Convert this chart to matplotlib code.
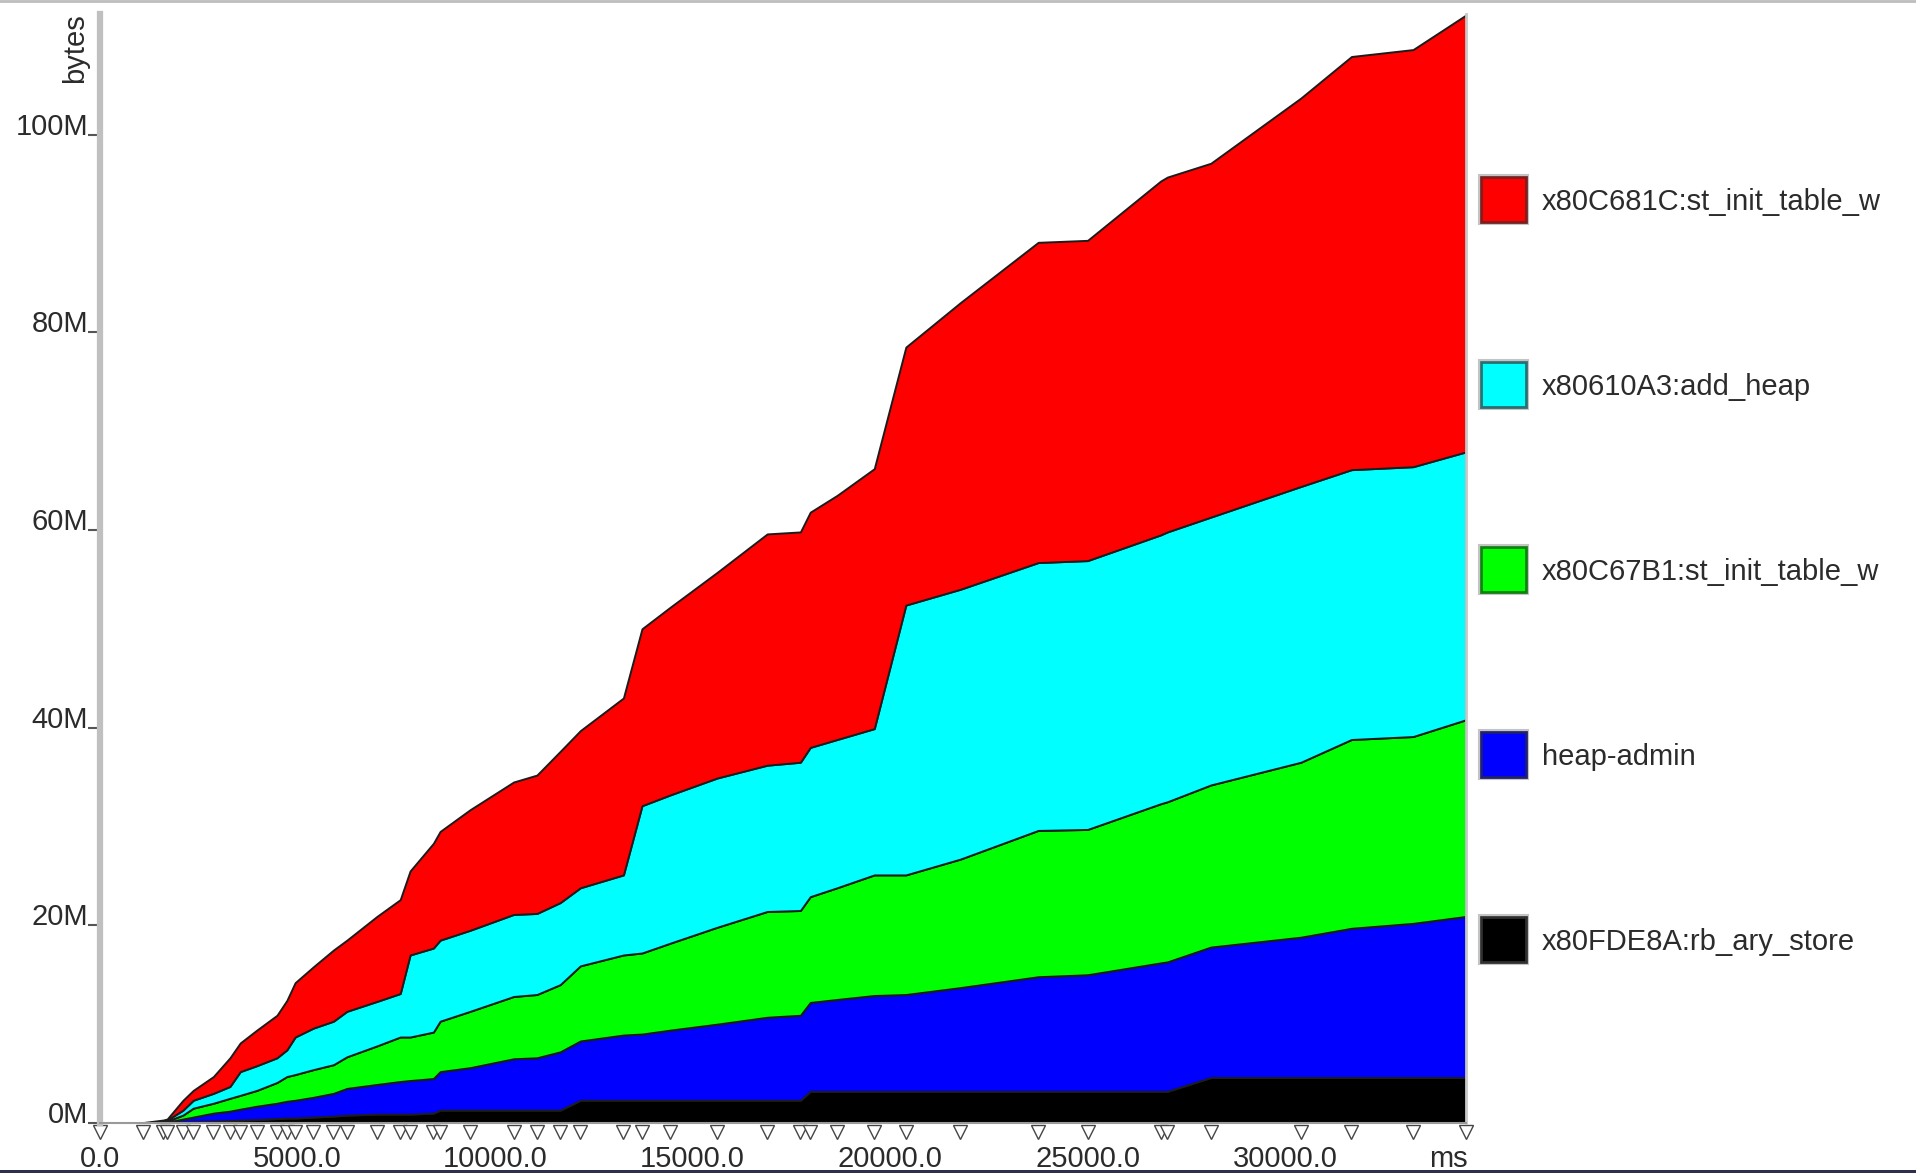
import matplotlib.pyplot as plt
from matplotlib.patches import Rectangle
from matplotlib.lines import Line2D

W, H = 1916, 1173
plt.rcParams['font.family'] = ['Liberation Sans', 'DejaVu Sans']

# sample times (ms)
times = [0, 1100, 1600, 1700, 2100, 2360, 2870, 3290, 3550, 3970,
         4480, 4730, 4940, 5400, 5910, 6250, 7010, 7600, 7850, 8440,
         8610, 9370, 10470, 11060, 11650, 12160, 13250, 13720, 14440, 15620,
         16890, 17730, 17980, 18660, 19600, 20400, 21780, 23750, 25000, 26850,
         27020, 28120, 30400, 31680, 33240, 34580]

# heap usage per allocation site, in MB
rb_ary_store = [0, 0, 0, 0.05, 0.1, 0.15, 0.2, 0.25, 0.3, 0.35,
                0.45, 0.5, 0.5, 0.6, 0.7, 0.8, 0.9, 0.9, 0.9, 1.0,
                1.3, 1.3, 1.3, 1.3, 1.3, 2.3, 2.3, 2.3, 2.3, 2.3,
                2.3, 2.3, 3.2, 3.2, 3.2, 3.2, 3.2, 3.2, 3.2, 3.2,
                3.2, 4.6, 4.6, 4.6, 4.6, 4.6]
heap_admin = [0, 0, 0.05, 0.05, 0.3, 0.45, 0.8, 0.95, 1.1, 1.35,
              1.55, 1.7, 1.8, 2.0, 2.3, 2.7, 3.0, 3.3, 3.4, 3.5,
              3.9, 4.3, 5.2, 5.3, 5.9, 6.0, 6.6, 6.7, 7.1, 7.7,
              8.4, 8.6, 9.0, 9.3, 9.7, 9.8, 10.5, 11.6, 11.8, 13.0,
              13.1, 13.2, 14.2, 15.1, 15.6, 16.3]
st_init_table_b1 = [0, 0, 0.05, 0.1, 0.4, 0.9, 1.0, 1.3, 1.4, 1.6,
                    2.1, 2.5, 2.6, 2.8, 2.9, 3.2, 3.9, 4.5, 4.4, 4.7,
                    5.1, 5.7, 6.3, 6.4, 6.8, 7.6, 8.1, 8.2, 8.8, 9.8,
                    10.7, 10.6, 10.7, 11.3, 12.2, 12.1, 13.0, 14.8, 14.7, 16.1,
                    16.2, 16.4, 17.7, 19.1, 18.9, 19.9]
add_heap = [0, 0, 0.05, 0.1, 0.5, 0.8, 1.0, 1.2, 2.4, 2.5,
            2.5, 2.7, 3.8, 4.2, 4.4, 4.6, 4.5, 4.4, 8.3, 8.5,
            8.2, 8.2, 8.3, 8.2, 8.3, 7.9, 8.1, 14.9, 15.0, 15.1,
            14.8, 15.0, 15.1, 15.0, 14.8, 27.3, 27.3, 27.1, 27.2, 27.2,
            27.3, 27.1, 27.9, 27.3, 27.3, 27.1]
st_init_table_1c = [0, 0.05, 0.15, 0.1, 1.0, 1.0, 1.7, 2.9, 2.9, 3.6,
                    4.3, 5.0, 5.5, 6.2, 7.2, 7.2, 8.6, 9.5, 8.5, 10.6,
                    11.0, 12.2, 13.4, 14.0, 15.3, 15.9, 17.9, 17.9, 19.0, 20.8,
                    23.4, 23.3, 23.8, 24.7, 26.3, 26.1, 29.0, 32.4, 32.4, 35.8,
                    35.9, 35.8, 39.3, 41.8, 42.2, 44.2]

series = [rb_ary_store, heap_admin, st_init_table_b1, add_heap, st_init_table_1c]
colors = ['#000000', '#0000ff', '#00ff00', '#00ffff', '#ff0000']

legend_labels = ['x80C681C:st_init_table_w', 'x80610A3:add_heap',
                 'x80C67B1:st_init_table_w', 'heap-admin', 'x80FDE8A:rb_ary_store']
legend_colors = ['#ff0000', '#00ffff', '#00ff00', '#0000ff', '#000000']
legend_edges = ['#7a2020', '#2a7070', '#108010', '#202070', '#303030']

y_ticks = [0, 20, 40, 60, 80, 100]
x_ticks = [0, 5000, 10000, 15000, 20000, 25000, 30000]

txt = '#2b2b2b'

fig = plt.figure(figsize=(W / 100, H / 100), dpi=100)
ax = fig.add_axes([100 / W, 50 / H, 1366 / W, 1109 / H])

ax.stackplot(times, *series, colors=colors, edgecolor='#1c1c1c', linewidth=1.4)
ax.set_xlim(0, times[-1])
ax.set_ylim(0, 112.2)

# sample markers under the time axis
ax.plot(times, [-0.008] * len(times), linestyle='none', marker='v', markersize=10,
        markerfacecolor='white', markeredgecolor='#444444', markeredgewidth=1.0,
        transform=ax.get_xaxis_transform(), clip_on=False)

ax.spines['top'].set_visible(False)
ax.spines['left'].set_color('#c0c0c0')
ax.spines['left'].set_linewidth(4.5)
ax.spines['right'].set_color('#c8c8c8')
ax.spines['right'].set_linewidth(2)
ax.spines['bottom'].set_color('#9a9a9a')
ax.spines['bottom'].set_linewidth(1.5)

ax.set_yticks(y_ticks)
ax.set_yticklabels([f"{v}M" for v in y_ticks])
ax.tick_params(axis='y', length=8.5, width=1.5, color='#555555', pad=0,
               labelsize=21, labelcolor=txt)
for lbl in ax.get_yticklabels():
    lbl.set_va('baseline')

ax.set_xticks(x_ticks)
ax.set_xticklabels([f"{v:.1f}" for v in x_ticks])
ax.tick_params(axis='x', length=0, pad=16, labelsize=21, labelcolor=txt)

fig.text(75 / W, 1 - 13 / H, 'bytes', rotation=90, ha='center', va='top',
         fontsize=21, color=txt)
fig.text(1448 / W, 1 - 1167 / H, 'ms', ha='center', va='baseline',
         fontsize=21, color=txt)

# legend boxes
for i, (lab, col, edge) in enumerate(zip(legend_labels, legend_colors, legend_edges)):
    top = 177 + i * 185
    fig.add_artist(Rectangle((1479 / W, 1 - (top + 47) / H), 49 / W, 49 / H,
                             transform=fig.transFigure, facecolor='none',
                             edgecolor='#c4c4c4', linewidth=1.5))
    fig.add_artist(Rectangle((1481 / W, 1 - (top + 45) / H), 45 / W, 45 / H,
                             transform=fig.transFigure, facecolor=col,
                             edgecolor=edge, linewidth=2))
    fig.text(1542 / W, 1 - (top + 25) / H, lab, ha='left', va='center',
             fontsize=21, color=txt)

# frame lines at the top and bottom of the page
fig.add_artist(Line2D([0, 1], [1 - 1 / H, 1 - 1 / H], transform=fig.transFigure,
                      color='#bdbdbd', linewidth=2))
fig.add_artist(Rectangle((0, 0), 1, 3 / H, transform=fig.transFigure,
                         facecolor='#2e2e50', edgecolor='none', zorder=10))

fig.savefig('out.png', dpi=100)
